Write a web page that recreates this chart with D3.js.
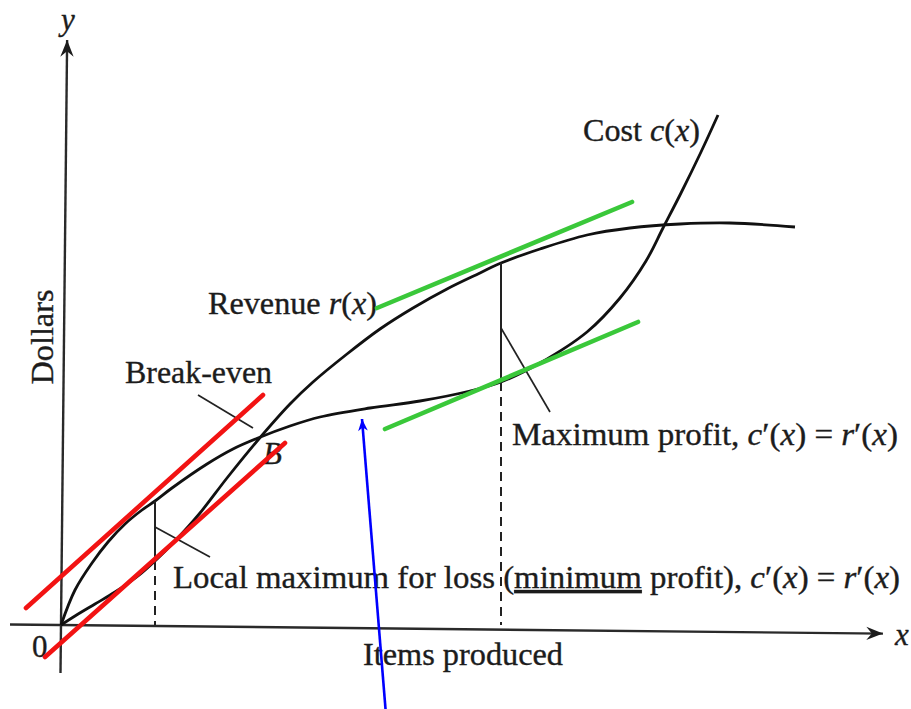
<!DOCTYPE html>
<html>
<head>
<meta charset="utf-8">
<script src="https://cdn.jsdelivr.net/npm/d3@7"></script>
<style>
  body { margin: 0px; background: white; }
  svg { display: block; }
  text { font-family: 'Liberation Serif', 'DejaVu Serif', serif; fill: #1c1c1c; stroke: #1c1c1c; stroke-width: 0.35px; font-size: 31px; }
  .curve { fill: none; stroke: #111; stroke-width: 2.8px; }
  .axis { stroke: #2a2a2a; stroke-width: 2.4px; }
  .pointer { stroke: #222; stroke-width: 1.7px; }
  .drop { stroke: #222; stroke-width: 2px; }
  .tangent { stroke-width: 4.6px; stroke-linecap: round; }
</style>
</head>
<body>
<script>

// values, items on x and dollars on y (arbitrary units)
var revenueItems   = [0, 14, 34, 54, 77, 94, 114, 139, 166, 197, 229, 252, 286, 319, 352, 386, 419, 440, 479, 526, 569, 619, 669, 734];
var revenueDollars = [0, 9, 21, 33, 49, 64, 84, 112, 147, 185, 221, 243, 271, 296, 317, 336, 352, 362, 376, 390, 397, 401, 402, 398];

var costItems   = [0, 14, 31, 47, 64, 81, 94, 111, 146, 172, 197, 229, 259, 309, 359, 409, 440, 479, 526, 559, 585, 602, 620, 640, 657];
var costDollars = [0, 35, 62, 83, 101, 115, 124, 137, 161, 176, 187, 199, 208, 217, 224, 234, 243, 262, 293, 327, 364, 397, 432, 473, 510];

// c'(x) = r'(x) at these two outputs
var localMaxLossItems = 94;
var maxProfitItems = 440;

// tangent segments [x0, y0, x1, y1]
var redTangents   = [[-35, 17, 202, 230], [-16, -32, 224, 182]];
var greenTangents = [[316, 317, 571, 423], [324, 196, 577, 303]];

// leader lines from labels to the curves
var pointers = [[137, 230, 192, 197], [94, 98, 149, 68], [440, 297, 489, 213]];

// the blue arrow pointing at the flat part of the cost curve
var blueArrow = [325, -90, 301, 206];

var axisXRange = [-51, 822];
var axisYRange = [-48, 585];

var width = 911, height = 709;

var x = d3.scaleLinear().domain([0, 800]).range([61, 861]);
var y = d3.scaleLinear().domain([0, 600]).range([625, 25]);

var svg = d3.select("body").append("svg")
    .attr("width", width)
    .attr("height", height);

var defs = svg.append("defs");
defs.append("marker")
    .attr("id", "axisHead")
    .attr("markerUnits", "userSpaceOnUse")
    .attr("markerWidth", 20).attr("markerHeight", 20)
    .attr("viewBox", "-16 -8 18 16")
    .attr("refX", 0).attr("refY", 0)
    .attr("orient", "auto")
    .append("path")
    .attr("d", "M0,0 L-15,-6 L-10,0 L-15,6 Z")
    .attr("fill", "#1c1c1c");

defs.append("marker")
    .attr("id", "blueHead")
    .attr("markerUnits", "userSpaceOnUse")
    .attr("markerWidth", 14).attr("markerHeight", 14)
    .attr("viewBox", "-12 -6 13 12")
    .attr("refX", 0).attr("refY", 0)
    .attr("orient", "auto")
    .append("path")
    .attr("d", "M0,0 L-11,-4.5 L-8,0 L-11,4.5 Z")
    .attr("fill", "#0000ff");

// axes (the scan is turned a little, so the frame is too)
var axes = svg.append("g")
    .attr("transform", "rotate(0.6," + x(0) + "," + y(0) + ")");

axes.append("line")
    .attr("class", "axis")
    .attr("x1", x(axisXRange[0])).attr("y1", y(0))
    .attr("x2", x(axisXRange[1])).attr("y2", y(0))
    .attr("marker-end", "url(#axisHead)");

axes.append("line")
    .attr("class", "axis")
    .attr("x1", x(0)).attr("y1", y(axisYRange[0]))
    .attr("x2", x(0)).attr("y2", y(axisYRange[1]))
    .attr("marker-end", "url(#axisHead)");

// curves
var line = d3.line()
    .x(function(d) { return x(d[0]); })
    .y(function(d) { return y(d[1]); })
    .curve(d3.curveCatmullRom.alpha(0.5));

var revenue = d3.zip(revenueItems, revenueDollars);
var cost = d3.zip(costItems, costDollars);

svg.append("path").datum(revenue).attr("class", "curve").attr("d", line);
svg.append("path").datum(cost).attr("class", "curve").attr("d", line);

function valueAt(items, dollars, v) {
  return d3.scaleLinear().domain(items).range(dollars)(v);
}

// vertical drops: solid between the curves, dashed down to the axis
[localMaxLossItems, maxProfitItems].forEach(function(q) {
  var r = valueAt(revenueItems, revenueDollars, q);
  var c = valueAt(costItems, costDollars, q);
  var top = Math.max(r, c), bottom = Math.min(r, c);
  svg.append("line").attr("class", "drop")
      .attr("x1", x(q)).attr("x2", x(q))
      .attr("y1", y(top)).attr("y2", y(bottom));
  svg.append("line").attr("class", "drop")
      .attr("x1", x(q)).attr("x2", x(q))
      .attr("y1", y(bottom)).attr("y2", y(0))
      .attr("stroke-dasharray", "9,6");
});

svg.selectAll(".pointer")
  .data(pointers)
  .enter().append("line")
    .attr("class", "pointer")
    .attr("x1", function(d) { return x(d[0]); })
    .attr("y1", function(d) { return y(d[1]); })
    .attr("x2", function(d) { return x(d[2]); })
    .attr("y2", function(d) { return y(d[3]); });

// labels
function label(parts, xv, yv, len, anchor) {
  var t = svg.append("text")
      .attr("x", x(xv))
      .attr("y", y(yv))
      .attr("text-anchor", anchor || "start");
  if (len) t.attr("textLength", len).attr("lengthAdjust", "spacingAndGlyphs");
  parts.forEach(function(p) {
    var s = t.append("tspan").text(p[0]);
    if (p[1] == "i") s.style("font-style", "italic");
    if (p[1] == "u") s.style("text-decoration", "underline");
  });
  return t;
}

label([["Cost "], ["c", "i"], ["("], ["x", "i"], [")"]], 522, 484, 117);
label([["Revenue "], ["r", "i"], ["("], ["x", "i"], [")"]], 147, 311, 169);
label([["Break-even"]], 64, 242, 147);
label([["B", "i"]], 202, 161);
label([["Maximum profit, "], ["c", "i"], ["\u2032("], ["x", "i"], [") = "], ["r", "i"], ["\u2032("], ["x", "i"], [")"]], 451, 180, 386);
label([["Local maximum for loss ("], ["minimum", "u"], [" profit), "], ["c", "i"], ["\u2032("], ["x", "i"], [") = "], ["r", "i"], ["\u2032("], ["x", "i"], [")"]], 112, 37, 727);
label([["Items produced"]], 402, -40, 200, "middle");
label([["0"]], -29, -32);
label([["x", "i"]], 834, -20);
label([["y", "i"]], 0, 595);

svg.append("text")
    .attr("transform", "translate(" + x(-8) + "," + y(288) + ") rotate(-90)")
    .attr("text-anchor", "middle")
    .attr("textLength", 95)
    .attr("lengthAdjust", "spacingAndGlyphs")
    .text("Dollars");

// coloured tangents and the blue arrow go on top
svg.selectAll(".red")
  .data(redTangents)
  .enter().append("line")
    .attr("class", "tangent red")
    .attr("stroke", "#f21313")
    .attr("x1", function(d) { return x(d[0]); })
    .attr("y1", function(d) { return y(d[1]); })
    .attr("x2", function(d) { return x(d[2]); })
    .attr("y2", function(d) { return y(d[3]); });

svg.selectAll(".green")
  .data(greenTangents)
  .enter().append("line")
    .attr("class", "tangent green")
    .attr("stroke", "#3ac83a")
    .attr("x1", function(d) { return x(d[0]); })
    .attr("y1", function(d) { return y(d[1]); })
    .attr("x2", function(d) { return x(d[2]); })
    .attr("y2", function(d) { return y(d[3]); });

svg.append("line")
    .attr("stroke", "#0000ff")
    .attr("stroke-width", 2.6)
    .attr("x1", x(blueArrow[0])).attr("y1", y(blueArrow[1]))
    .attr("x2", x(blueArrow[2])).attr("y2", y(blueArrow[3]))
    .attr("marker-end", "url(#blueHead)");

</script>
</body>
</html>
